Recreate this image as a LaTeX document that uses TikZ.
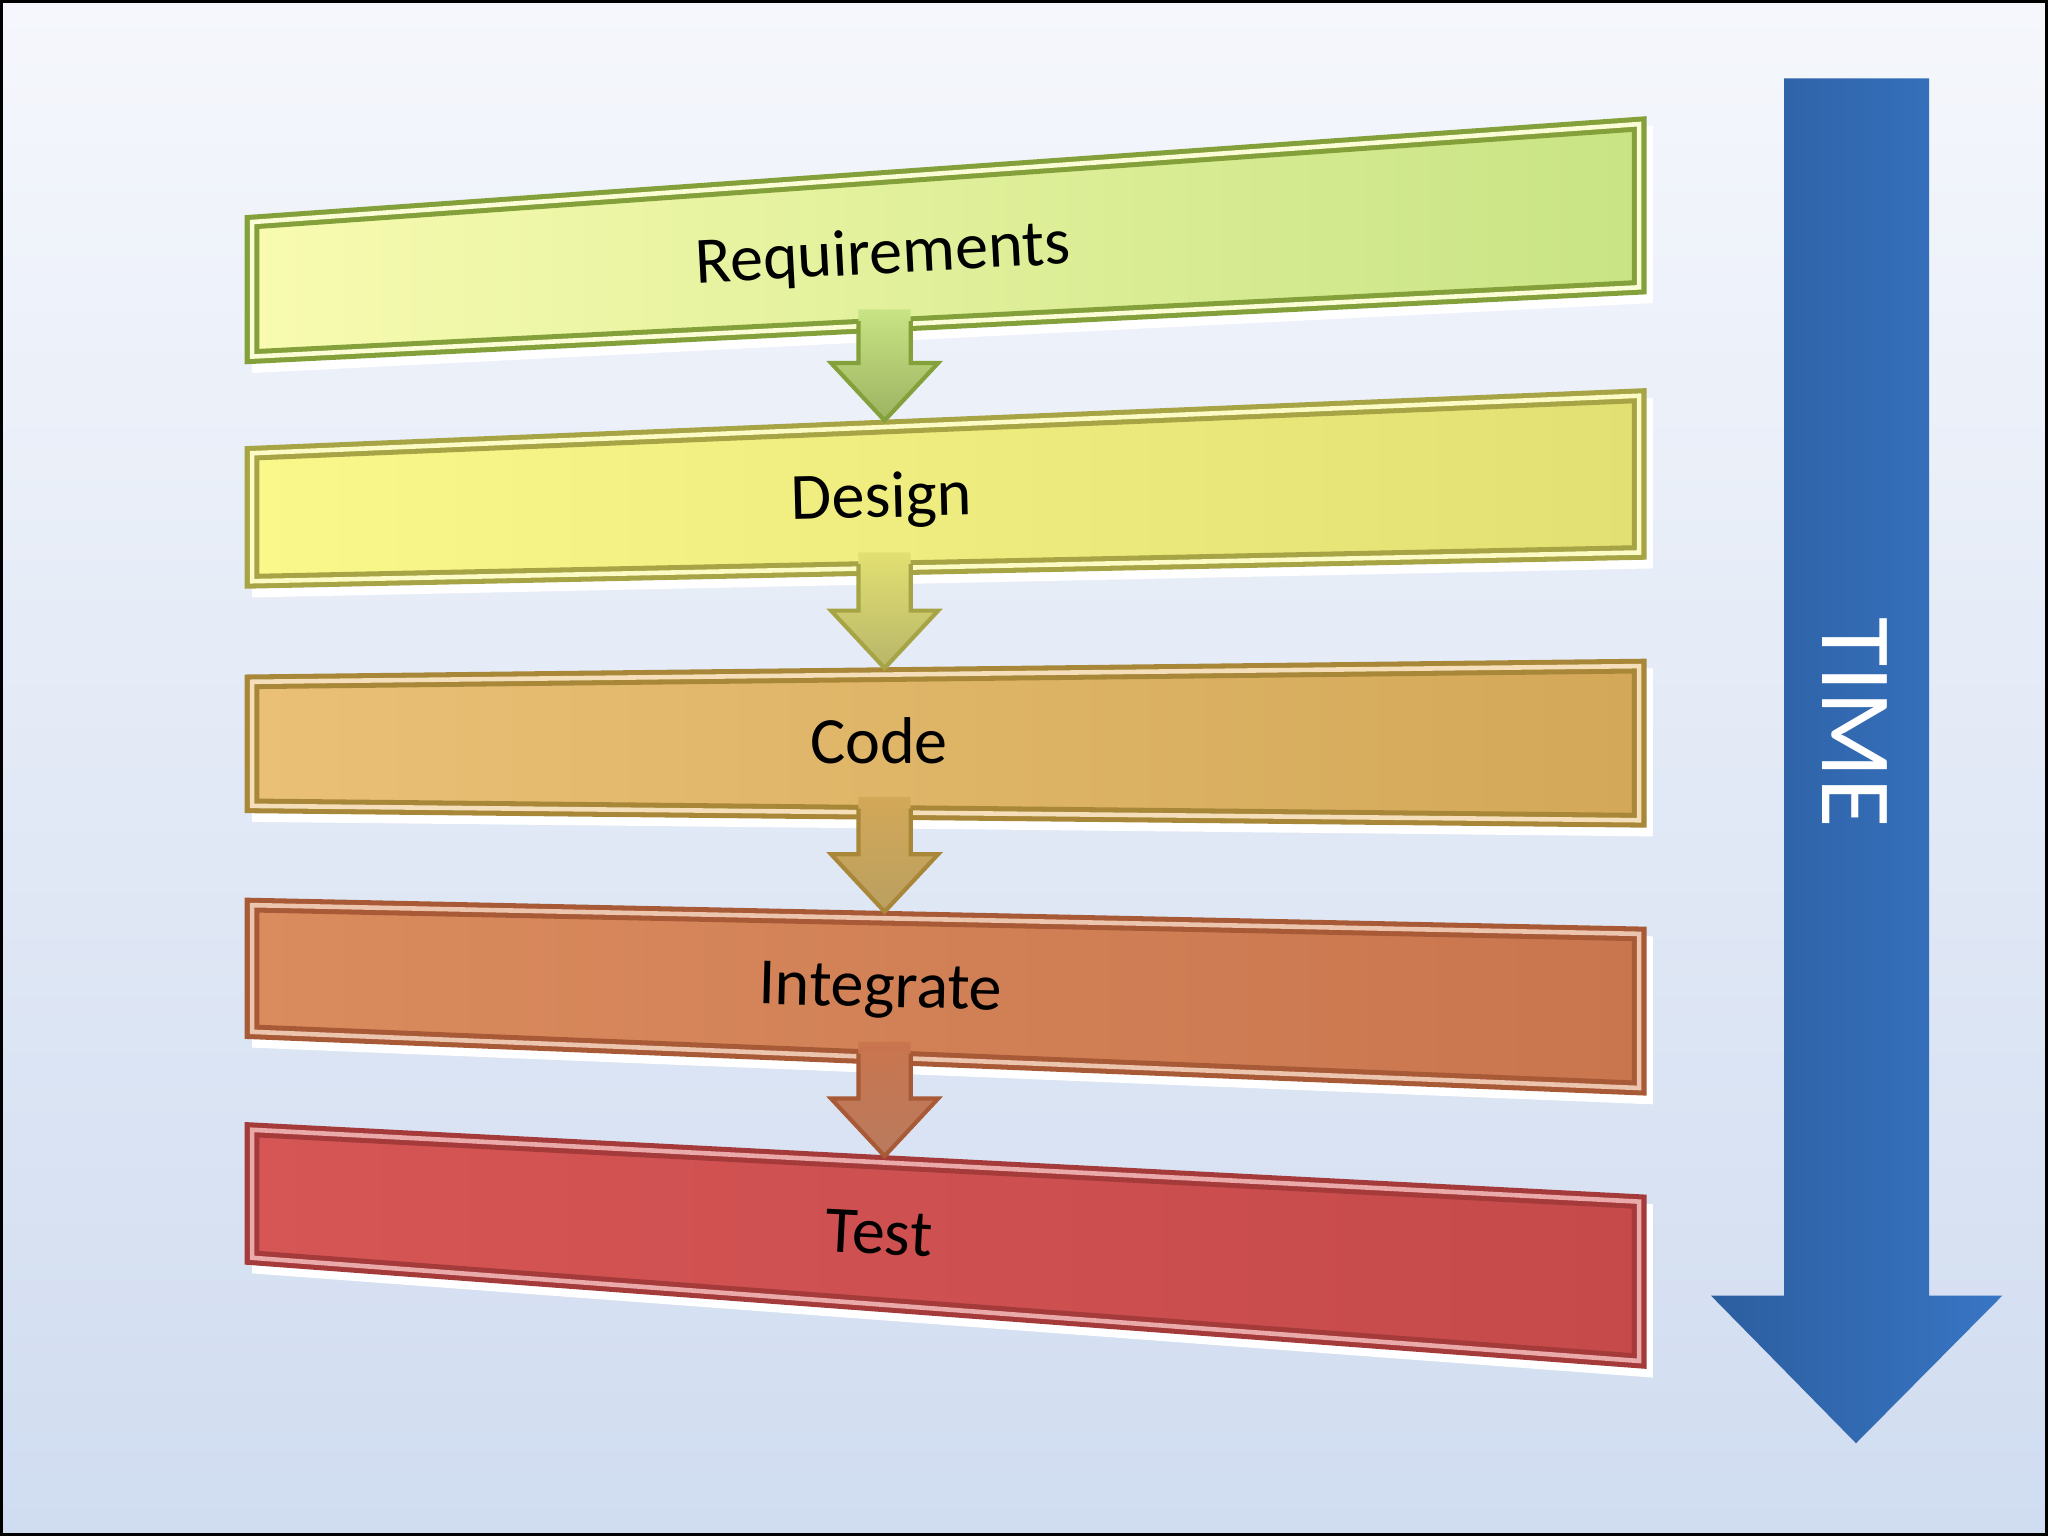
\documentclass[tikz,border=0pt]{standalone}
\usepackage{fontspec}
\setmainfont{Carlito}
\usetikzlibrary{calc}

\definecolor{bgtop}{HTML}{F5F7FC}
\definecolor{bgbot}{HTML}{D0DCF0}
\definecolor{reqL}{HTML}{F8FBB0}
\definecolor{reqR}{HTML}{C8E484}
\definecolor{reqB}{HTML}{84A03A}
\definecolor{desL}{HTML}{FAF88A}
\definecolor{desR}{HTML}{E2E072}
\definecolor{desB}{HTML}{A6A444}
\definecolor{codeL}{HTML}{E9C076}
\definecolor{codeR}{HTML}{D3A858}
\definecolor{codeB}{HTML}{A88838}
\definecolor{intL}{HTML}{DA8C5E}
\definecolor{intR}{HTML}{C9754E}
\definecolor{intB}{HTML}{A85A36}
\definecolor{testL}{HTML}{D65555}
\definecolor{testR}{HTML}{C64A4A}
\definecolor{testB}{HTML}{A43A3A}
\definecolor{timeL}{HTML}{2C5E9F}
\definecolor{timeR}{HTML}{3875C4}

\begin{document}
\begin{tikzpicture}[x=0.01cm,y=-0.01cm]
\tikzstyle{band}=[line join=miter,line width=1.1pt,double distance=1pt,
  preaction={draw=white,line width=3pt,transform canvas={xshift=1.5pt,yshift=-2pt}}]
\tikzstyle{lbl}=[font=\fontsize{14.4}{17}\selectfont]
\tikzstyle{edge}=[line width=0.9pt,line join=miter]
\useasboundingbox (0,0) rectangle (1568,1176);
\shade[top color=bgtop,bottom color=bgbot] (0,0) rectangle (1568,1176);
\draw[line width=1.4pt] (0,0) rectangle (1568,1176);

% time arrow
\shade[left color=timeL,right color=timeR] (1366,60) -- (1477,60) -- (1477,992) -- (1533,992)
  -- (1421,1105) -- (1310,992) -- (1366,992) -- cycle;
\node[font=\fontsize{22}{26}\selectfont,text=white,rotate=-90] (time) at (1420,553) {TIME};

% bands
\path[band,left color=reqL,right color=reqR,draw=reqB,double=reqL!50!white]
  (193,170) coordinate (req-tl) -- (1255,95) coordinate (req-tr)
  -- (1255,220) coordinate (req-br) -- (193,273) coordinate (req-bl) -- cycle;
\coordinate (req-bot) at ($(req-bl)!.456!(req-br)$);
\node[lbl,rotate=3] (req) at (676,196) {Requirements};

\path[band,left color=desL,right color=desR,draw=desB,double=desL!50!white]
  (193,347) coordinate (des-tl) -- (1255,303) coordinate (des-tr)
  -- (1255,423) coordinate (des-br) -- (193,445) coordinate (des-bl) -- cycle;
\coordinate (des-top) at ($(des-tl)!.456!(des-tr)+(0,-5)$);
\coordinate (des-bot) at ($(des-bl)!.456!(des-br)$);
\node[lbl,rotate=1.5] (des) at (675,383) {Design};

\shade[top color=reqR,bottom color=reqB!80!white] ($(req-bot)+(-20,-12)$) -- ($(des-top)+(-20,-44)$)
  -- ($(des-top)+(-41,-44)$) -- (des-top) -- ($(des-top)+(41,-44)$)
  -- ($(des-top)+(20,-44)$) -- ($(req-bot)+(20,-12)$) -- cycle;
\draw[edge,draw=reqB] ($(req-bot)+(-20,-3)$) -- ($(des-top)+(-20,-44)$)
  -- ($(des-top)+(-41,-44)$) -- (des-top) -- ($(des-top)+(41,-44)$)
  -- ($(des-top)+(20,-44)$) -- ($(req-bot)+(20,-3)$);

\path[band,left color=codeL,right color=codeR,draw=codeB,double=codeL!50!white]
  (193,522) coordinate (code-tl) -- (1255,510) coordinate (code-tr)
  -- (1255,628) coordinate (code-br) -- (193,617) coordinate (code-bl) -- cycle;
\coordinate (code-top) at ($(code-tl)!.456!(code-tr)+(0,-5)$);
\coordinate (code-bot) at ($(code-bl)!.456!(code-br)$);
\node[lbl] (code) at (673,567) {Code};

\shade[top color=desR,bottom color=desB!80!white] ($(des-bot)+(-20,-12)$) -- ($(code-top)+(-20,-44)$)
  -- ($(code-top)+(-41,-44)$) -- (code-top) -- ($(code-top)+(41,-44)$)
  -- ($(code-top)+(20,-44)$) -- ($(des-bot)+(20,-12)$) -- cycle;
\draw[edge,draw=desB] ($(des-bot)+(-20,-3)$) -- ($(code-top)+(-20,-44)$)
  -- ($(code-top)+(-41,-44)$) -- (code-top) -- ($(code-top)+(41,-44)$)
  -- ($(code-top)+(20,-44)$) -- ($(des-bot)+(20,-3)$);

\path[band,left color=intL,right color=intR,draw=intB,double=intL!50!white]
  (193,693) coordinate (int-tl) -- (1255,715) coordinate (int-tr)
  -- (1255,833) coordinate (int-br) -- (193,790) coordinate (int-bl) -- cycle;
\coordinate (int-top) at ($(int-tl)!.456!(int-tr)+(0,-5)$);
\coordinate (int-bot) at ($(int-bl)!.456!(int-br)$);
\node[lbl,rotate=-1.5] (integ) at (674,759) {Integrate};

\shade[top color=codeR,bottom color=codeB!80!white] ($(code-bot)+(-20,-12)$) -- ($(int-top)+(-20,-44)$)
  -- ($(int-top)+(-41,-44)$) -- (int-top) -- ($(int-top)+(41,-44)$)
  -- ($(int-top)+(20,-44)$) -- ($(code-bot)+(20,-12)$) -- cycle;
\draw[edge,draw=codeB] ($(code-bot)+(-20,-3)$) -- ($(int-top)+(-20,-44)$)
  -- ($(int-top)+(-41,-44)$) -- (int-top) -- ($(int-top)+(41,-44)$)
  -- ($(int-top)+(20,-44)$) -- ($(code-bot)+(20,-3)$);

\path[band,left color=testL,right color=testR,draw=testB,double=testL!50!white]
  (193,865) coordinate (test-tl) -- (1255,920) coordinate (test-tr)
  -- (1255,1042) coordinate (test-br) -- (193,963) coordinate (test-bl) -- cycle;
\coordinate (test-top) at ($(test-tl)!.456!(test-tr)+(0,-5)$);
\node[lbl,rotate=-3] (test) at (673,944) {Test};

\shade[top color=intR,bottom color=intB!80!white] ($(int-bot)+(-20,-12)$) -- ($(test-top)+(-20,-44)$)
  -- ($(test-top)+(-41,-44)$) -- (test-top) -- ($(test-top)+(41,-44)$)
  -- ($(test-top)+(20,-44)$) -- ($(int-bot)+(20,-12)$) -- cycle;
\draw[edge,draw=intB] ($(int-bot)+(-20,-3)$) -- ($(test-top)+(-20,-44)$)
  -- ($(test-top)+(-41,-44)$) -- (test-top) -- ($(test-top)+(41,-44)$)
  -- ($(test-top)+(20,-44)$) -- ($(int-bot)+(20,-3)$);
\end{tikzpicture}
\end{document}
